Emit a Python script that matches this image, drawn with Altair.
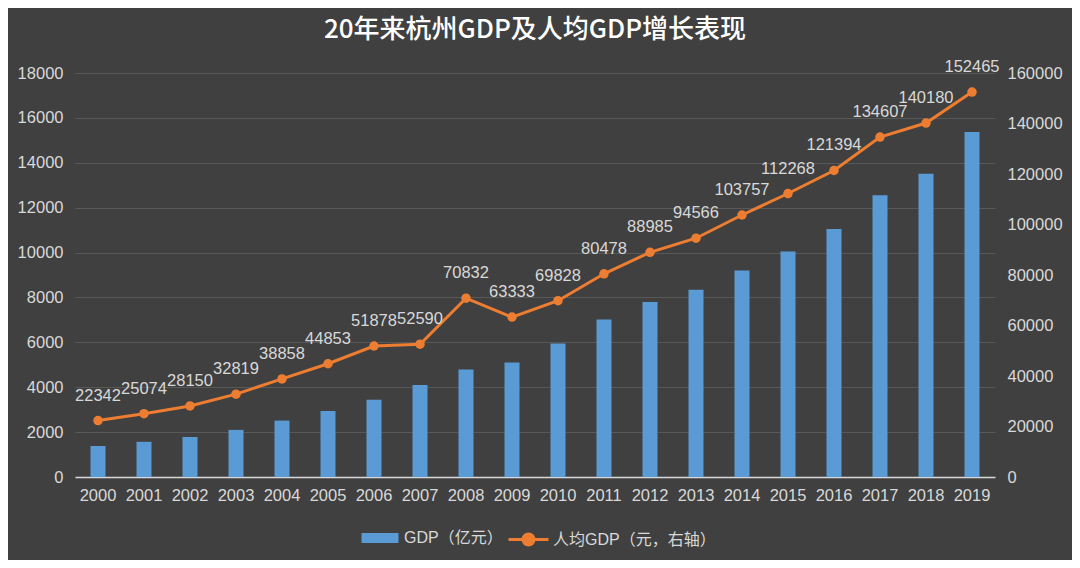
import altair as alt
import pandas as pd

years = [str(y) for y in range(2000, 2020)]
gdp = [1382, 1568, 1782, 2099, 2515, 2943, 3441, 4100, 4789, 5098,
       5949, 7019, 7802, 8343, 9206, 10050, 11050, 12556, 13509, 15373]
per_capita = [22342, 25074, 28150, 32819, 38858, 44853, 51878, 52590, 70832, 63333,
              69828, 80478, 88985, 94566, 103757, 112268, 121394, 134607, 140180, 152465]
left_ticks = list(range(0, 18001, 2000))
right_ticks = list(range(0, 160001, 20000))

bar_name = "GDP（亿元）"
line_name = "人均GDP（元，右轴）"
title_text = "20年来杭州GDP及人均GDP增长表现"

df = pd.DataFrame({"year": years, "gdp": gdp, "pc": per_capita})

FONT = "Liberation Sans, Noto Sans CJK SC, sans-serif"
TXT = "#d9d9d9"
BLUE = "#5B9BD5"
ORANGE = "#ED7D31"
FS = 16.5

x_enc = alt.X("year:N", title=None,
              scale=alt.Scale(paddingInner=0, paddingOuter=0),
              axis=alt.Axis(labelAngle=0, labelColor=TXT, labelFontSize=FS, labelFont=FONT,
                            ticks=False, domain=True, domainColor=TXT, domainWidth=1.5,
                            labelPadding=10, grid=False))

base = alt.Chart(df).encode(x=x_enc)

bars = base.transform_calculate(s1=f"'{bar_name}'").mark_bar(size=15).encode(
    y=alt.Y("gdp:Q", title=None, scale=alt.Scale(domain=[0, 18000], nice=False),
            axis=alt.Axis(values=left_ticks, format="d", grid=True, gridColor="#585858",
                          gridWidth=1, domain=False, ticks=False, labelColor=TXT,
                          labelFontSize=FS, labelFont=FONT, labelPadding=12)),
    color=alt.Color("s1:N", scale=alt.Scale(domain=[bar_name], range=[BLUE]),
                    legend=alt.Legend(title=None, orient="none", legendX=295, legendY=455,
                                      symbolType="M-1.85,-0.5H1.85V0.5H-1.85Z",
                                      symbolSize=400, labelOffset=14, padding=0,
                                      labelColor=TXT, labelFontSize=16, labelFont=FONT,
                                      labelLimit=400, symbolStrokeWidth=0)),
)

right_axis = alt.Axis(orient="right", values=right_ticks, format="d", grid=False, domain=False,
                      ticks=False, labelColor=TXT, labelFontSize=FS, labelFont=FONT,
                      labelPadding=12, labelAlign="left")
right_scale = alt.Scale(domain=[0, 160000], nice=False)

line = base.transform_calculate(s2=f"'{line_name}'").mark_line(
    strokeWidth=3, point=alt.OverlayMarkDef(size=90, filled=True, color=ORANGE)
).encode(
    y=alt.Y("pc:Q", title=None, scale=right_scale, axis=right_axis),
    color=alt.Color("s2:N", scale=alt.Scale(domain=[line_name], range=[ORANGE]),
                    legend=alt.Legend(title=None, orient="none", legendX=442, legendY=455,
                                      symbolType="M-2,0H2M0.55,0A0.55,0.55 0 1 1 -0.55,0A0.55,0.55 0 1 1 0.55,0",
                                      symbolSize=400, labelOffset=13, padding=0,
                                      symbolStrokeWidth=3, symbolFillColor=ORANGE,
                                      labelColor=TXT, labelFontSize=16, labelFont=FONT,
                                      labelLimit=400)),
)

labels = base.mark_text(dy=-25, fontSize=FS, font=FONT, color=TXT).encode(
    y=alt.Y("pc:Q", title=None, scale=right_scale, axis=right_axis),
    text=alt.Text("pc:Q", format="d"))

right_layer = alt.layer(line, labels)

chart = alt.layer(bars, right_layer).resolve_scale(
    y="independent", color="independent"
).resolve_legend(color="independent").properties(
    width=920, height=404,
    autosize=alt.AutoSizeParams(type="none"),
    padding={"left": 67, "top": 65, "right": 77, "bottom": 83},
    title=alt.TitleParams(title_text, fontSize=26, color="#ffffff", font="Noto Sans CJK SC",
                          fontWeight=500, anchor="middle", offset=16),
).configure(background="#404040").configure_view(stroke=None)

chart.save("out.html", embed_options={"renderer": "svg", "actions": False})
